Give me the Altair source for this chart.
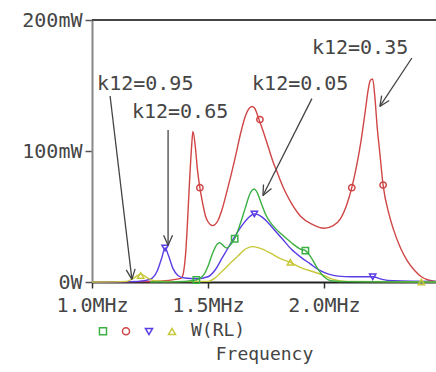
import math
import altair as alt
import pandas as pd

# ---------------- data ----------------
SERIES = ["k12=0.05", "k12=0.35", "k12=0.65", "k12=0.95"]
COLORS = ["#3cb043", "#d04545", "#5a3ce6", "#c8c83a"]
SHAPES = ["square", "circle", "triangle-down", "triangle-up"]

# frequency in MHz, power in mW
green_f = [1.25, 1.40, 1.45, 1.48, 1.50, 1.52, 1.54, 1.55, 1.565, 1.58, 1.60, 1.615, 1.64, 1.66, 1.68,
           1.69, 1.70, 1.71, 1.73, 1.75, 1.78, 1.82, 1.86, 1.90, 1.92, 1.94, 1.97, 2.00, 2.03, 2.10, 2.483]
green_p = [0, 0.5, 1.5, 5, 12, 22, 29, 30, 28, 26, 29, 33, 45, 56, 67,
           70, 71, 69, 60, 51, 43, 36, 30, 25, 24, 20, 11, 4, 1, 0.3, 0]

red_f = [1.00, 1.20, 1.30, 1.36, 1.385, 1.395, 1.405, 1.41, 1.42, 1.43, 1.435, 1.445, 1.455, 1.465,
         1.475, 1.49, 1.50, 1.52, 1.54, 1.56, 1.58, 1.60, 1.62, 1.64, 1.66, 1.68, 1.69, 1.70, 1.72,
         1.74, 1.76, 1.78, 1.80, 1.83, 1.86, 1.90, 1.95, 2.00, 2.04, 2.07, 2.10, 2.12, 2.14, 2.16,
         2.18, 2.19, 2.20, 2.21, 2.22, 2.23, 2.24, 2.255, 2.28, 2.30, 2.33, 2.36, 2.39, 2.42, 2.45, 2.483]
red_p = [0, 0.3, 0.8, 2, 3, 8, 25, 40, 75, 105, 115, 104, 85, 72,
         62, 50, 46, 43, 46, 55, 68, 82, 97, 113, 126, 133, 134, 133, 124,
         114, 103, 92, 83, 70, 60, 50, 44, 41, 43, 48, 60, 72, 88, 108,
         133, 146, 154, 155, 140, 117, 100, 74, 52, 40, 26, 16, 9, 4, 1.5, 0.5]

blue_f = [1.00, 1.20, 1.25, 1.28, 1.30, 1.315, 1.33, 1.35, 1.37, 1.40, 1.45, 1.50, 1.53, 1.56, 1.59,
          1.62, 1.65, 1.68, 1.70, 1.72, 1.75, 1.78, 1.82, 1.86, 1.90, 1.94, 1.98, 2.02, 2.06, 2.12,
          2.21, 2.25, 2.30, 2.483]
blue_p = [0, 0.5, 2, 8, 18, 26, 20, 10, 5, 3, 2.5, 4, 9, 18, 27,
          36, 44, 50, 52, 51, 47, 41, 33, 25, 19, 14, 9, 6, 4.5, 4,
          4, 2, 1, 0.5]

yellow_f = [1.00, 1.15, 1.18, 1.21, 1.24, 1.27, 1.35, 1.50, 1.53, 1.56, 1.60, 1.63, 1.66, 1.69, 1.72,
            1.77, 1.81, 1.855, 1.90, 1.95, 2.00, 2.04, 2.10, 2.483]
yellow_p = [0, 0.5, 3, 6, 3, 1, 0.3, 0.5, 3, 8, 15, 20, 25, 27, 26,
            22, 18, 15, 11, 8, 5, 2, 0.5, 0]

# trace markers
green_mf, green_mp = [1.45, 1.615, 1.92], [1.5, 33, 24]
red_mf, red_mp = [1.465, 1.724, 2.12, 2.255], [72, 124, 72, 74]
blue_mf, blue_mp = [1.315, 1.70, 2.21], [26, 52, 4]
yellow_mf, yellow_mp = [1.21, 1.855, 2.42], [5, 15, 0]

# annotations: label, text anchor (MHz, mW), arrow start, arrow tip
ann_text = ["k12=0.95", "k12=0.65", "k12=0.05", "k12=0.35"]
ann_tx = [1.022, 1.172, 1.690, 1.948]
ann_ty = [151, 130, 151, 179]
arr_x0 = [1.078, 1.328, 1.948, 2.379]
arr_y0 = [142, 116, 140, 171]
arr_x1 = [1.172, 1.328, 1.737, 2.241]
arr_y1 = [2, 28, 66, 134]

x_ticks = [1.0, 1.5, 2.0]
y_ticks = [0, 100, 200]

# ---------------- layout ----------------
W, H = 344, 262
XD = [1.0, 2.483]
YD = [0, 200]
FONT = "DejaVu Sans Mono"
TXT = "#454545"

xs = alt.Scale(domain=XD, nice=False, zero=False)
ys = alt.Scale(domain=YD, nice=False)
cs = alt.Scale(domain=SERIES, range=COLORS)
ss = alt.Scale(domain=SERIES, range=SHAPES)

x_axis = alt.Axis(values=x_ticks, title="Frequency", labelExpr="format(datum.value, '.1f') + 'MHz'",
                  labelFlush=False, labelOverlap=False, grid=False, tickSize=6, tickColor="#333",
                  tickWidth=1.5, domainColor="#222", domainWidth=2, labelPadding=7,
                  labelFont=FONT, labelFontSize=20, labelColor=TXT, titleFont=FONT, titleFontSize=18,
                  titleFontWeight="normal", titleColor=TXT, titlePadding=30)
y_axis = alt.Axis(values=y_ticks, title=None,
                  labelExpr="datum.value == 0 ? '0W' : datum.value + 'mW'",
                  labelFlush=False, labelOverlap=False, grid=False, tickSize=7, tickColor="#555",
                  tickWidth=1.5, domainColor="#888", domainWidth=2, labelPadding=3,
                  labelFont=FONT, labelFontSize=20, labelColor=TXT)


def line_layer(idx, f, p):
    df = pd.DataFrame({"f": f, "p": p})
    return alt.Chart(df).mark_line(strokeWidth=1.4, interpolate="monotone", color=COLORS[idx]).encode(
        x=alt.X("f:Q", scale=xs, axis=x_axis),
        y=alt.Y("p:Q", scale=ys, axis=y_axis),
    )


lines = [
    line_layer(1, red_f, red_p),
    line_layer(2, blue_f, blue_p),
    line_layer(3, yellow_f, yellow_p),
    line_layer(0, green_f, green_p),
]

mk = pd.concat([
    pd.DataFrame({"f": green_mf, "p": green_mp, "s": SERIES[0]}),
    pd.DataFrame({"f": red_mf, "p": red_mp, "s": SERIES[1]}),
    pd.DataFrame({"f": blue_mf, "p": blue_mp, "s": SERIES[2]}),
    pd.DataFrame({"f": yellow_mf, "p": yellow_mp, "s": SERIES[3]}),
])
legend = alt.Legend(orient="none", legendX=5, legendY=305, direction="horizontal", title="W(RL)",
                    titleOrient="right", labelExpr="''", labelOffset=0, columnPadding=9,
                    symbolSize=50, symbolStrokeWidth=1.5, titleFont=FONT, titleFontSize=18,
                    titleFontWeight="normal", titleColor=TXT, titlePadding=12, padding=0,
                    labelFontSize=12)
points = alt.Chart(mk).mark_point(filled=False, size=40, strokeWidth=1.5, opacity=1).encode(
    x=alt.X("f:Q", scale=xs, axis=x_axis),
    y=alt.Y("p:Q", scale=ys, axis=y_axis),
    color=alt.Color("s:N", scale=cs, legend=legend),
    shape=alt.Shape("s:N", scale=ss, legend=legend),
)

top = alt.Chart(pd.DataFrame({"v": [YD[1]]})).mark_rule(color="#444", strokeWidth=2).encode(
    y=alt.Y("v:Q", scale=ys, axis=y_axis)
)

# annotation text
ann = pd.DataFrame({"t": ann_text, "x": ann_tx, "y": ann_ty})
texts = alt.Chart(ann).mark_text(font=FONT, fontSize=20, color=TXT, align="left", baseline="middle").encode(
    x=alt.X("x:Q", scale=xs, axis=x_axis), y=alt.Y("y:Q", scale=ys, axis=y_axis), text="t:N"
)

# arrows: shaft + two wings of an open head (geometry computed in pixel space)
kx = W / (XD[1] - XD[0])
ky = H / (YD[1] - YD[0])
segs = []
for x0, y0, x1, y1 in zip(arr_x0, arr_y0, arr_x1, arr_y1):
    segs.append((x0, y0, x1, y1))
    dx, dy = (x0 - x1) * kx, (y0 - y1) * ky
    n = math.hypot(dx, dy)
    dx, dy = dx / n, dy / n
    for a in (math.radians(24), -math.radians(24)):
        wx = dx * math.cos(a) - dy * math.sin(a)
        wy = dx * math.sin(a) + dy * math.cos(a)
        segs.append((x1, y1, x1 + 11 * wx / kx, y1 + 11 * wy / ky))
seg_df = pd.DataFrame(segs, columns=["x", "y", "x2", "y2"])
arrows = alt.Chart(seg_df).mark_rule(color="#444", strokeWidth=1.3).encode(
    x=alt.X("x:Q", scale=xs, axis=x_axis), y=alt.Y("y:Q", scale=ys, axis=y_axis),
    x2="x2:Q", y2="y2:Q"
)

chart = alt.layer(top, *lines, points, arrows, texts).properties(
    width=W, height=H,
    autosize=alt.AutoSizeParams(type="none"),
    padding={"left": 92, "top": 20, "right": 0, "bottom": 90},
    background="white",
).configure_view(strokeWidth=0)

chart.save("out.html", embed_options={"renderer": "svg", "actions": False})
